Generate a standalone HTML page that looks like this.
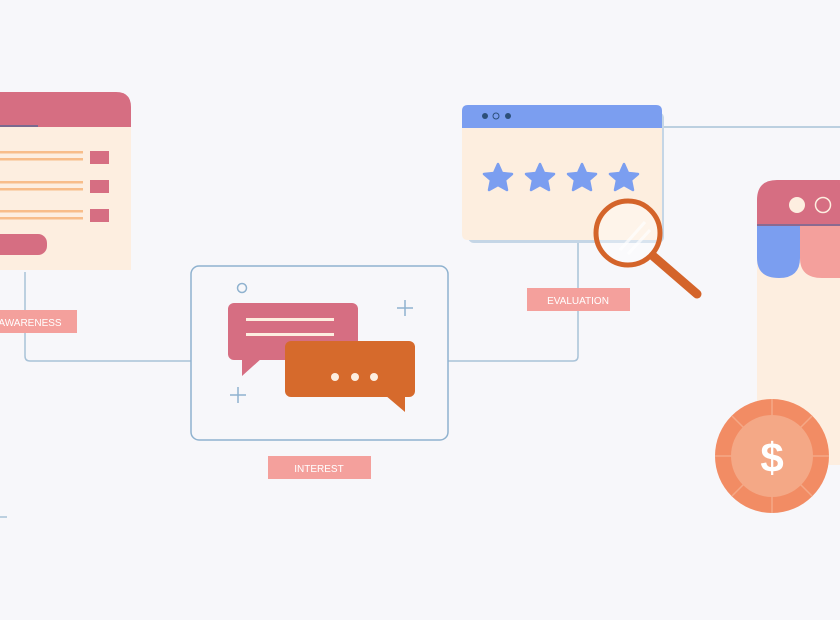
<!DOCTYPE html>
<html><head><style>html,body{margin:0;padding:0;background:#f7f7fa;}svg{display:block}</style></head><body>
<svg width="840" height="620" viewBox="0 0 840 620" xmlns="http://www.w3.org/2000/svg" font-family="Liberation Sans, sans-serif">
<rect width="840" height="620" fill="#f7f7fa"/>
<g fill="none" stroke="#a9c3d8" stroke-width="1.5">
<path d="M25 272 V356 Q25 361 30 361 H191"/>
<path d="M448 361 H573 Q578 361 578 356 V240"/>
<path d="M662 127 H840"/>
<path d="M0 517 H7"/>
</g>
<path d="M0 92 H116 Q131 92 131 107 V127 H0 Z" fill="#d66e82"/>
<rect x="0" y="127" width="131" height="143" fill="#fdeee0"/>
<rect x="0" y="125" width="38" height="2" fill="#7a6a90"/>
<g fill="#f8bd8a">
<rect x="0" y="151" width="83" height="2.5"/><rect x="0" y="158" width="83" height="2.5"/>
<rect x="0" y="181" width="83" height="2.5"/><rect x="0" y="188" width="83" height="2.5"/>
<rect x="0" y="210" width="83" height="2.5"/><rect x="0" y="217" width="83" height="2.5"/>
</g>
<g fill="#d66e82">
<rect x="90" y="151" width="19" height="13"/><rect x="90" y="180" width="19" height="13"/><rect x="90" y="209" width="19" height="13"/>
<rect x="-10" y="234" width="57" height="21" rx="9"/>
</g>
<rect x="0" y="310" width="77" height="23" fill="#f4a09c"/>
<text x="30" y="326" font-size="10" fill="#fff" text-anchor="middle">AWARENESS</text>
<rect x="191" y="266" width="257" height="174" rx="8" fill="#f7f7fa" stroke="#8fb2cf" stroke-width="1.5"/>
<circle cx="242" cy="288" r="4.5" fill="none" stroke="#8fb2cf" stroke-width="1.5"/>
<g stroke="#8fb2cf" stroke-width="1.5"><path d="M397 308 H413 M405 300 V316"/><path d="M230 395 H246 M238 387 V403"/></g>
<rect x="228" y="303" width="130" height="57" rx="6" fill="#d66e82"/>
<path d="M242 358 V376 L262 358 Z" fill="#d66e82"/>
<rect x="246" y="318" width="88" height="3" fill="#fdeee0"/><rect x="246" y="333" width="88" height="3" fill="#fdeee0"/>
<rect x="285" y="341" width="130" height="56" rx="6" fill="#d66a2c"/>
<path d="M385 395 L405 412 V395 Z" fill="#d66a2c"/>
<g fill="#fdeee0"><circle cx="335" cy="377" r="4"/><circle cx="355" cy="377" r="4"/><circle cx="374" cy="377" r="4"/></g>
<rect x="268" y="456" width="103" height="23" fill="#f4a09c"/>
<text x="319" y="472" font-size="10" fill="#fff" text-anchor="middle">INTEREST</text>
<rect x="468" y="112" width="196" height="131" rx="6" fill="#c5d6e6"/>
<path d="M468 105 H656 Q662 105 662 111 V128 H462 V111 Q462 105 468 105 Z" fill="#7b9ef0"/>
<path d="M462 128 H662 V234 Q662 240 656 240 H468 Q462 240 462 234 Z" fill="#fdeedf"/>
<g fill="#2c4f7a"><circle cx="485" cy="116" r="3"/><circle cx="508" cy="116" r="3"/></g>
<circle cx="496" cy="116" r="3" fill="none" stroke="#2c4f7a" stroke-width="1"/>
<g fill="#7b9ef0" stroke="#7b9ef0" stroke-width="2.5" stroke-linejoin="round">
<polygon id="s" points="498,164 502,173 512,174 505,180 507,190 498,185 489,190 491,180 484,174 494,173"/>
<use href="#s" x="42"/><use href="#s" x="84"/><use href="#s" x="126"/>
</g>
<rect x="527" y="288" width="103" height="23" fill="#f4a09c"/>
<text x="578" y="304" font-size="10" fill="#fff" text-anchor="middle">EVALUATION</text>
<line x1="653" y1="256" x2="697" y2="294" stroke="#d4642a" stroke-width="9" stroke-linecap="round"/>
<circle cx="628" cy="233" r="32" fill="rgba(255,255,255,0.35)" stroke="#d4642a" stroke-width="5"/>
<path d="M620 250 L645 222 M628 254 L650 230" stroke="#fff" stroke-width="3" opacity="0.7"/>
<rect x="757" y="225" width="83" height="240" fill="#fdeee0"/>
<path d="M757 225 V200 Q757 180 777 180 H840 V225 Z" fill="#d66e82"/>
<rect x="757" y="224" width="83" height="2" fill="#8a6a90"/>
<path d="M757 226 H800 V258 Q800 278 779 278 Q757 278 757 258 Z" fill="#7b9ef0"/>
<path d="M800 226 H840 V278 H822 Q800 278 800 258 Z" fill="#f4a09c"/>
<circle cx="797" cy="205" r="8" fill="#fdeee0"/>
<circle cx="823" cy="205" r="7.5" fill="none" stroke="#fdeee0" stroke-width="1.5"/>
<circle cx="772" cy="456" r="57" fill="#f28c64"/>
<g stroke="#f4a886" stroke-width="1.5"><path d="M772 399 V513 M715 456 H829 M732 416 L812 496 M812 416 L732 496"/></g>
<circle cx="772" cy="456" r="41" fill="#f4a886"/>
<text x="772" y="472" font-size="42" font-weight="bold" fill="#fff" text-anchor="middle">$</text>
</svg>
</body></html>
